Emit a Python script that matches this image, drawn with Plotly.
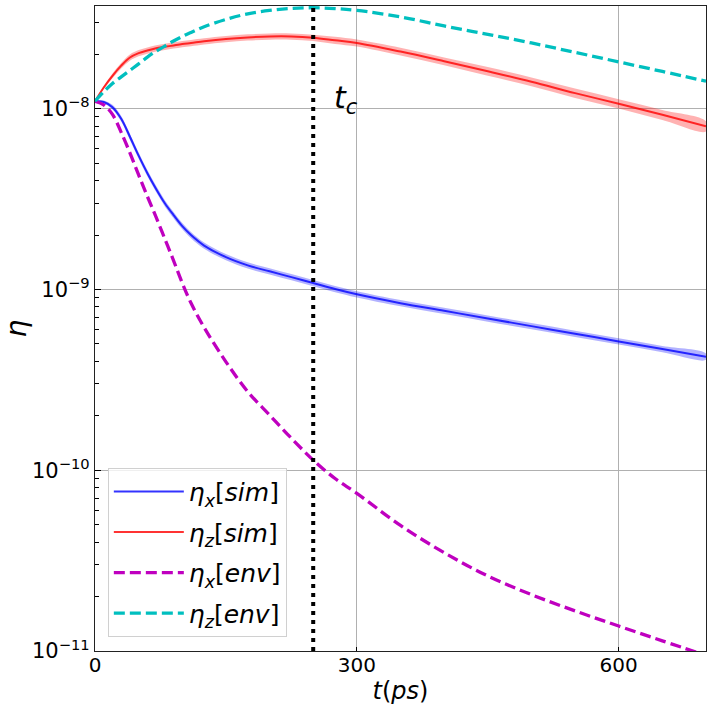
import math
import plotly.graph_objects as go

# ---- data ----
t_ps = [0, 10, 20, 30, 40, 50, 60, 70, 80, 90, 100, 110, 125, 150, 175, 200,
        225, 250, 275, 300, 350, 400, 450, 500, 550, 600, 650, 700]

eta_x_sim = [1.10e-8, 1.09e-8, 1.02e-8, 8.8e-9, 7.0e-9, 5.5e-9, 4.4e-9, 3.6e-9,
             3.0e-9, 2.58e-9, 2.24e-9, 2.0e-9, 1.75e-9, 1.51e-9, 1.36e-9, 1.26e-9,
             1.17e-9, 1.085e-9, 1.005e-9, 9.4e-10, 8.4e-10, 7.62e-10, 6.91e-10,
             6.27e-10, 5.69e-10, 5.16e-10, 4.68e-10, 4.25e-10]

eta_z_sim = [1.10e-8, 1.31e-8, 1.52e-8, 1.73e-8, 1.92e-8, 2.03e-8, 2.10e-8, 2.16e-8,
             2.20e-8, 2.24e-8, 2.28e-8, 2.31e-8, 2.36e-8, 2.43e-8, 2.48e-8, 2.51e-8,
             2.51e-8, 2.47e-8, 2.39e-8, 2.31e-8, 2.07e-8, 1.83e-8, 1.61e-8, 1.41e-8,
             1.22e-8, 1.065e-8, 9.25e-9, 8.0e-9]

eta_x_env = [1.10e-8, 1.05e-8, 9.3e-9, 7.4e-9, 5.7e-9, 4.3e-9, 3.27e-9, 2.51e-9,
             1.905e-9, 1.445e-9, 1.084e-9, 8.41e-10, 6.17e-10, 3.98e-10, 2.72e-10,
             2.02e-10, 1.503e-10, 1.138e-10, 9.0e-11, 7.45e-11, 4.95e-11, 3.5e-11,
             2.6e-11, 2.05e-11, 1.667e-11, 1.374e-11, 1.138e-11, 9.46e-12]

eta_z_env = [1.10e-8, 1.24e-8, 1.38e-8, 1.50e-8, 1.63e-8, 1.77e-8, 1.93e-8, 2.08e-8,
             2.22e-8, 2.37e-8, 2.51e-8, 2.64e-8, 2.84e-8, 3.12e-8, 3.35e-8, 3.50e-8,
             3.59e-8, 3.62e-8, 3.58e-8, 3.50e-8, 3.22e-8, 2.87e-8, 2.58e-8, 2.31e-8,
             2.05e-8, 1.815e-8, 1.607e-8, 1.42e-8]

# relative half-width of the shaded spread around the simulated curves
sim_x_spread = [0.01, 0.02, 0.03, 0.035, 0.04, 0.04, 0.04, 0.04, 0.04, 0.04, 0.04,
                0.04, 0.04, 0.04, 0.04, 0.04, 0.04, 0.04, 0.04, 0.04, 0.04, 0.04,
                0.04, 0.04, 0.04, 0.04, 0.04, 0.04]
sim_z_spread = [0.01, 0.02, 0.03, 0.035, 0.04, 0.04, 0.04, 0.04, 0.04, 0.04, 0.04,
                0.04, 0.04, 0.04, 0.04, 0.04, 0.04, 0.04, 0.045, 0.045, 0.05, 0.05,
                0.055, 0.055, 0.06, 0.06, 0.065, 0.065]

t_c = 250
y_ticks = [1e-11, 1e-10, 1e-9, 1e-8]
y_tick_text = ["10<sup>\u221211</sup>", "10<sup>\u221210</sup>",
               "10<sup>\u22129</sup>", "10<sup>\u22128</sup>"]
x_ticks = [0, 300, 600]
y_minor_ticks = [k * 10.0 ** e for e in (-11, -10, -9, -8) for k in range(2, 10)]

FONT = "DejaVu Sans"
Y_RANGE = [-11, math.log10(3.7e-8)]

fig = go.Figure()


def band(vals, spread, color):
    up = [v * (1 + s) for v, s in zip(vals, spread)]
    lo = [v * (1 - s) for v, s in zip(vals, spread)]
    fig.add_trace(go.Scatter(x=t_ps + t_ps[::-1], y=up + lo[::-1], fill="toself",
                             fillcolor=color, line=dict(width=0, shape="spline"),
                             mode="lines", showlegend=False, hoverinfo="skip"))


band(eta_x_sim, sim_x_spread, "rgba(0,0,255,0.3)")
band(eta_z_sim, sim_z_spread, "rgba(255,0,0,0.3)")

fig.add_trace(go.Scatter(x=t_ps, y=eta_x_sim, mode="lines",
                         line=dict(color="rgba(0,0,255,0.8)", width=2, shape="spline"),
                         name="<i>\u03b7</i><sub><i>x</i></sub>[<i>sim</i>]", legendgroup="a"))
fig.add_trace(go.Scatter(x=t_ps, y=eta_z_sim, mode="lines",
                         line=dict(color="rgba(255,0,0,0.8)", width=2, shape="spline"),
                         name="<i>\u03b7</i><sub><i>z</i></sub>[<i>sim</i>]", legendgroup="b"))
fig.add_trace(go.Scatter(x=t_ps, y=eta_x_env, mode="lines",
                         line=dict(color="#bf00bf", width=3.3, dash="11px,5px", shape="spline"),
                         name="<i>\u03b7</i><sub><i>x</i></sub>[<i>env</i>]", legendgroup="c"))
fig.add_trace(go.Scatter(x=t_ps, y=eta_z_env, mode="lines",
                         line=dict(color="#00bfbf", width=3.3, dash="11px,5px", shape="spline"),
                         name="<i>\u03b7</i><sub><i>z</i></sub>[<i>env</i>]", legendgroup="d"))

# invisible carrier trace for the overlay axis that draws the minor ticks
fig.add_trace(go.Scatter(x=[t_ps[0]], y=[eta_x_sim[0]], yaxis="y2", mode="lines",
                         showlegend=False, hoverinfo="skip", line=dict(width=0),
                         opacity=0))

fig.add_shape(type="line", xref="x", yref="paper", x0=t_c, x1=t_c, y0=0, y1=1,
              line=dict(color="black", width=4, dash="4px,5px"))

fig.add_annotation(x=288, y=math.log10(1.12e-8), xref="x", yref="y",
                   text="<i>t</i><sub><i>c</i></sub>", showarrow=False,
                   font=dict(family=FONT, size=30, color="black"))

fig.update_xaxes(range=[0, 700], tickvals=x_ticks, ticks="inside", ticklen=4,
                 tickcolor="black", showline=True, linecolor="#222", linewidth=1.2,
                 mirror=True, showgrid=True, gridcolor="#b0b0b0", gridwidth=0.8,
                 zeroline=False, tickfont=dict(family=FONT, size=20, color="black"),
                 automargin=False, ticklabelstandoff=-4,
                 title=dict(text="<i>t</i>(<i>ps</i>)", font=dict(family=FONT, size=24, color="black"),
                            standoff=0))
fig.update_layout(
    yaxis=dict(type="log", range=Y_RANGE, tickvals=y_ticks,
               ticktext=y_tick_text, ticks="inside", ticklen=6, tickcolor="black",
               showline=True, linecolor="#222", linewidth=1.2, mirror=True,
               showgrid=True, gridcolor="#b0b0b0", gridwidth=0.8, zeroline=False,
               tickfont=dict(family=FONT, size=21, color="black"), automargin=False,
               title=dict(text="<i>\u03b7</i>", font=dict(family=FONT, size=28, color="black"),
                          standoff=12)),
    yaxis2=dict(type="log", range=Y_RANGE, overlaying="y", side="left", anchor="x",
                tickmode="array", tickvals=y_minor_ticks, ticktext=[""] * len(y_minor_ticks),
                ticks="inside", ticklen=4, tickwidth=1.2, tickcolor="black",
                showticklabels=False, showgrid=False, zeroline=False, showline=False,
                automargin=False),
)

fig.update_layout(width=712, height=712, margin=dict(l=95, r=6, t=6, b=61),
                  paper_bgcolor="white", plot_bgcolor="white",
                  legend=dict(x=0.021, y=0.022, xanchor="left", yanchor="bottom",
                              bgcolor="rgba(255,255,255,0.8)", bordercolor="#d0d0d0",
                              borderwidth=1, tracegroupgap=5, itemwidth=70,
                              font=dict(family=FONT, size=25, color="black")))

fig.write_html("out.html", config={"displayModeBar": False},
               post_script="document.body.style.margin='0';")
